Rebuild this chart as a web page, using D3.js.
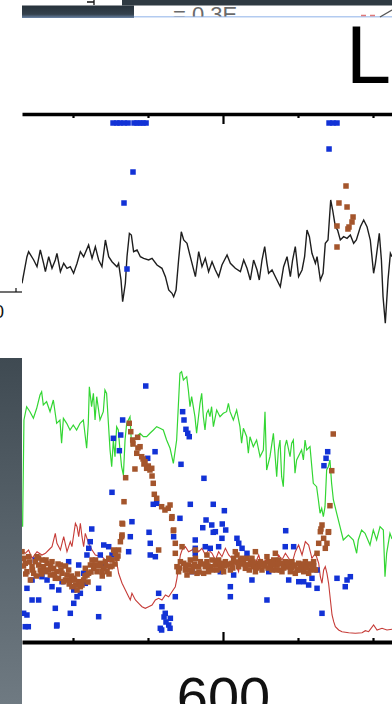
<!DOCTYPE html>
<html><head><meta charset="utf-8">
<script src="https://cdn.jsdelivr.net/npm/d3@7/dist/d3.min.js"></script>
<style>html,body{margin:0;padding:0;background:#fff;overflow:hidden}svg{display:block}</style>
</head><body>
<svg id="c" width="392" height="704"></svg>
<script>
// ---------- data ----------
const xTicks = [500, 550, 600, 650, 700];
const xLabels = {600: "600"};
const headerText = "= 0.3E";
const panelLetter = "L";
const leftAxisLabel = "0";

// top panel: black trace (frame, value)
const blackTrace = [[466,8.7],[469.3,35.3],[470.4,40.3],[473.8,32],[476,25.3],[478.2,42],[480.4,28.7],[481.6,20.3],[483.8,35.3],[486,23.7],[488.2,32],[489.3,38.7],[491.6,20.3],[493.8,28.7],[496,23.7],[498.2,25.3],[500.4,18.7],[502.7,28.7],[504.9,40.3],[507.1,35.3],[510.4,47],[512.7,33.7],[514.9,45.3],[517.1,32],[519.3,25.3],[521.6,52],[523.8,35.3],[526,30.3],[529.3,25.3],[530.4,28.7],[532,12],[533.1,-9.7],[534.9,8.7],[536,35.3],[537.6,58.7],[538.9,57],[540.4,40.3],[542.7,42],[544.9,35.3],[547.1,33.7],[550.4,32],[552.7,33.7],[556,27],[559.3,23.7],[561.6,15.3],[563.8,2],[566,-1.3],[567.1,-4.7],[568.7,2],[570.4,32],[572.2,60.3],[573.8,52],[576,48.7],[578.2,35.3],[581.6,15.3],[583.8,40.3],[586,25.3],[588.2,33.7],[590.4,20.3],[592.7,30.3],[594.9,22],[597.1,15.3],[599.3,27],[602.7,37],[604.9,28.7],[608.2,23.7],[611.6,20.3],[613.8,32],[616,23.7],[618.2,12],[620.4,32],[622.7,22],[624.2,12],[626,32],[627.8,45.3],[629.3,28.7],[630.4,18.7],[632.7,22],[634.9,15.3],[638.2,5.3],[640.4,25.3],[642.7,35.3],[644.9,15.3],[646.4,32],[648.2,45.3],[650.4,15.3],[652.7,22],[654.4,35.3],[656,62],[657.6,55.3],[659.3,38.7],[661.6,28.7],[662.7,35.3],[664.9,12],[666.7,18.7],[668.2,48.7],[670,52],[671.8,92],[673.1,82],[674.9,65.3],[676.4,62],[678.2,52],[680.4,55.3],[682.7,53.7],[684.9,57],[687.1,48.7],[688.9,52],[691.6,65.3],[693.8,72],[696,65.3],[698.2,52],[700.4,18.7],[701.6,28.7],[704.2,58.7],[705.6,32],[706.7,-4.7],[708.2,-31.3],[710,12],[711.6,38.7],[712.7,35.3]];

const blueTop = [[526.7,169],[529.3,169],[531.3,169],[534,169],[536.7,169],[540.7,169],[542.7,169],[544.7,169],[546.7,169],[548.7,169],[670.7,169],[673.3,169],[676,169],[670.7,143],[540,120],[534,89],[536,23]];
const brownTop = [[682,106],[677.3,89],[682.7,85],[686.7,75],[686,70],[676,66],[684,65],[683.3,63],[676,45]];

// bottom panel: green and red traces
const greenTrace = [[466.4,117.3],[467.3,224],[469.1,237.3],[471.3,232.3],[473.6,225.7],[475.8,235.7],[478,249],[479.1,252.3],[480.2,239],[482.4,242.3],[484.7,232.3],[486.9,244],[489.1,220.7],[491.3,224],[492.4,200.7],[493.6,225.7],[495.8,220.7],[498,214],[500.2,219],[502.4,214],[504.7,220.7],[506.9,224],[509.1,195.7],[510.2,220.7],[510.9,257.3],[512.4,237.3],[513.6,250.7],[514.7,224],[515.8,247.3],[518,224],[520.2,232.3],[521.3,254],[522.4,250.7],[523.6,220.7],[524.7,194],[525.8,177.3],[526.9,204],[528,187.3],[529.1,217.3],[530.2,214],[531.3,194],[532.4,177.3],[533.6,169],[534.7,204],[535.8,220.7],[536.9,224],[538,227.3],[539.1,197.3],[540.2,204],[542.4,207.3],[544.7,210.7],[546.9,207.3],[549.1,207.3],[551.3,210.7],[553.6,214],[555.8,217.3],[558,215.7],[560.2,214],[562.4,204],[564.7,195.7],[566.9,180.7],[569.1,204],[571.3,270.7],[572.4,272.3],[573.6,264],[575.8,267.3],[576.9,254],[578,237.3],[579.1,247.3],[581.3,227.3],[582.4,210.7],[584.7,240.7],[585.8,250.7],[586.9,227.3],[588,214],[589.1,230.7],[590.2,234],[591.3,227.3],[592.4,237.3],[593.6,217.3],[595.8,234],[598,227.3],[600.2,230.7],[602.4,232.3],[603.6,240.7],[604.7,232.3],[606.9,224],[609.1,234],[611.3,217.3],[612.4,200.7],[613.6,215.7],[615.8,207.3],[616.9,190.7],[618,207.3],[620.2,197.3],[622.4,204],[624.7,187.3],[626.9,194],[628,232.3],[629.1,174],[631.3,187.3],[633.6,210.7],[635.8,167.3],[636.9,194],[638,204],[639.1,167.3],[640.2,157.3],[641.3,197.3],[642.4,204],[644.7,187.3],[645.8,200.7],[646.9,204],[648,170.7],[649.1,184],[651.3,190.7],[652.4,194],[653.6,184],[654.7,204],[655.8,194],[658,197.3],[660.2,160.7],[662.4,157.3],[663.6,144],[664.7,130.7],[665.8,135.7],[666.9,127.3],[668,137.3],[669.1,174],[670.2,177.3],[671.3,184],[672.4,160.7],[673.6,144],[675.8,130.7],[678,117.3],[680.2,104],[683.6,109],[686.9,104],[689.1,90.7],[690.2,104],[692.4,114],[694.7,110.7],[698,99],[700.2,114],[702.4,104],[704.7,117.3],[706.9,114],[708,67.3],[709.1,90.7],[711.3,110.7],[712.7,105]];

const redTrace = [[466,94],[468.2,90.7],[470.4,94],[472.7,85.7],[476,92.3],[479.3,89],[481.6,90.7],[483.8,94],[486,97.3],[488.2,110.7],[489.3,100.7],[491.6,94],[493.8,107.3],[496,92.3],[498.2,102.3],[499.3,97.3],[501.6,120.7],[502.7,117.3],[503.8,107.3],[504.9,120.7],[506,107.3],[507.1,97.3],[508.2,110.7],[510.4,100.7],[512.7,94],[514.9,89],[519.3,87.3],[521.6,84],[523.8,82.3],[526,84],[528.2,85.7],[529.3,80.7],[530.4,70.7],[532.7,60.7],[534.9,54],[537.1,47.3],[538.2,44],[539.3,50.7],[541.6,44],[543.8,40.7],[546,37.3],[548.2,35.7],[550.4,37.3],[552.7,39],[554.9,44],[557.1,45.7],[559.3,44],[561.6,49],[563.8,47.3],[566,52.3],[568.2,57.3],[569.3,65.7],[570.4,77.3],[571.6,89],[572.7,94],[574.9,97.3],[577.1,92.3],[579.3,94],[581.6,97.3],[583.8,92.3],[586,95.7],[588.2,89],[590.4,94],[592.7,90.7],[594.9,84],[597.1,92.3],[599.3,87.3],[601.6,95.7],[603.8,89],[606,85.7],[608.2,80.7],[610.4,72.3],[611.6,85.7],[613.8,79],[614.9,89],[617.1,84],[619.3,87.3],[621.6,80.7],[623.8,89],[626,77.3],[628.2,84],[630.4,79],[632.7,85.7],[634.9,77.3],[637.1,89],[639.3,84],[641.6,90.7],[643.8,85.7],[646,80.7],[648.2,92.3],[650.4,99],[652.7,89],[654.9,102.3],[657.1,99],[659.3,85.7],[661.6,90.7],[663.8,80.7],[664.9,67.3],[666,60.7],[667.1,74],[668.2,77.3],[669.3,70.7],[670.4,60.7],[671.6,44],[672.7,29],[673.8,22.3],[674.9,17.3],[677.1,14],[679.3,12.3],[683.8,11.3],[688.2,10.7],[692.7,11.3],[694.9,13.3],[697.1,12.3],[700.4,19],[702.7,14],[706,15.7],[709.3,14],[712.7,14.7]];

const brownBottom = [[466,92.3],[468.2,80.7],[469.3,72.3],[471.6,64],[472.7,77.3],[474.9,82.3],[477.1,79],[478.2,74],[480.4,77.3],[482.7,80.7],[483.8,74],[484.9,69],[487.1,75.7],[489.3,72.3],[490.4,65.7],[492.7,70.7],[494.9,64],[496,69],[498.2,64],[499.3,57.3],[501.6,59],[503.8,62.3],[504.9,57.3],[507.1,64],[509.3,69],[511.6,79],[513.8,75.7],[516,72.3],[518.2,80.7],[520.4,75.7],[522.7,72.3],[524.9,77.3],[526,84],[528.2,90.7],[530.4,94],[531.6,102.3],[532.7,120.7],[532.7,109],
[467.1,85.7],[470.4,87.3],[473.8,70.7],[476,87.3],[479.3,84],[481.6,72.3],[486,82.3],[488.2,65.7],[491.6,79],[493.8,62.3],[497.1,74],[500.4,65.7],[502.7,54],[506,59],[508.2,75.7],[510.4,70.7],[512.7,84],[514.9,79],[519.3,72.3],[521.6,82.3],[523.8,85.7],[527.1,94],[529.3,85.7],
[467,78],[468.5,70],[471,82],[473,74],[475.5,68],[477,86],[479,70],[482,84],[485,78],[487.5,70],[490,80],[492,74],[495,78],[497.5,60],[499,68],[501,64],[503,70],[505.5,62],[508,68],[510,62],[512,72],[515,84],[517,78],[519.5,68],[522,78],[524,70],[526,78],[528,80],[530,88],
[567.1,114],[566,127.3],[568.2,100.7],[568.2,90.7],[569.3,77.3],[571.6,82.3],[574.9,74],[577.1,79],[579.3,72.3],[581.6,85.7],[583.8,77.3],[587.1,70.7],[589.3,82.3],[591.6,77.3],[594.9,79],[597.1,84],[599.3,77.3],[601.6,82.3],[604.9,74],[607.1,85.7],[609.3,89],[611.6,84],[613.8,80.7],[616,85.7],[618.2,82.3],[620.4,77.3],[622.7,80.7],[624.9,82.3],[626,74],[629.3,87.3],[631.6,77.3],[633.8,84],[636,79],[638.2,74],[640.4,80.7],[642.7,77.3],[644.9,72.3],[647.1,79],[649.3,74],[651.6,77.3],[653.8,72.3],[656,79],[658.2,74],[660.4,82.3],[662.7,90.7],[663.8,100.7],[664.9,112.3],[667.1,105.7],[669.3,100.7],[668.2,95.7],[670.4,112.3],[666,119],
[572.7,97.3],[581.6,94],[589.3,89],[608.2,92.3],[621.6,92.3],[634.9,90.7],[557.1,94],
[570.4,72.3],[573.8,80.7],[576,69],[578.2,84],[580.4,77.3],[582.7,70.7],[584.9,82.3],[588.2,77.3],[590.4,72.3],[592.7,84],[596,74],[598.2,80.7],[600.4,72.3],[602.7,79],[606,80.7],[610.4,77.3],[612.7,85.7],[614.9,75.7],[617.1,79],[619.3,85.7],[621.6,72.3],[623.8,77.3],[627.1,80.7],[630.4,82.3],[632.7,74],[634.9,79],[637.1,84],[639.3,72.3],[641.6,82.3],[643.8,77.3],[646,82.3],[648.2,70.7],[650.4,80.7],[652.7,75.7],[654.9,82.3],[657.1,70.7],[659.3,77.3],[661.6,74],
[571,76],[575,78],[578,74],[581,80],[584,72],[587,80],[590,78],[593,74],[595.5,83],[598.5,76],[601,78],[604,80],[606.5,76],[609,82],[612,80],[615,79],[617.5,74],[620,82],[622.5,76],[625,79],[628,78],[630,76],[633,80],[635.5,74],[638,80],[640.5,76],[643,82],[645.5,76],[648,78],[650.5,74],[653,80],[655.5,76],[658,80],[660.5,78],
[537.5,220.7],[538.5,212.3],[539.8,204],[543.1,206.7],[544.7,197.3],[542.5,190.7],[545.8,187.3],[548,182.3],[550.2,178],[552.5,175.7],[549.1,175.7],[541.3,175],[535.1,166.3],[553.5,160.7],[554.2,149.7],[555.8,145.7],[559.1,137.3],[561.3,134],[564.7,139],[563.5,135.7],[565.8,125.7],[566.9,113.3],[534,142.3],[533.1,120],[532.5,107.3],[673.5,210],[672.5,173.3],[671.3,138.3],[665.3,115],[670.2,111.7],[546.7,185],[551.3,174],[552.7,168],[540,200],[543.3,196],[547.3,180]];

const blueBottom = [[548.5,258],[573.1,232.3],[574,224],[575.3,214.7],[576.5,210.7],[577.5,207.3],[533.1,224],[526.9,205.7],[531.8,209],[530.9,193.3],[554.7,192.3],[549.8,185.7],[572,179.7],[587.3,165.7],[526,151.7],[553.5,139.7],[555.8,140.7],[578.2,139.7],[593.5,139.7],[600.9,133.3],[571.3,125.7],[539.3,122.3],[588.7,124],[592.5,119],[599.5,120],[586.5,116.3],[593.5,111.7],[601.8,114],[550.7,111.7],[512.5,115],[669.8,192.3],[668.7,185.7],[667.3,178.3],[641.8,113.3],[594.9,112.3],[511.5,102.3],[538.2,107.3],[567.1,107.3],[581.5,104],[599.3,105.7],[609.3,105.7],[551.5,100.7],[520.5,99],[523.8,97.3],[510.5,95.7],[537.1,92.3],[588.2,97.3],[591.5,95.7],[597.1,97.3],[610.5,100.7],[612.7,95.7],[616,90.7],[641.5,97.3],[647.1,97.3],[551.5,89],[554.9,87.3],[581.5,90.7],[509.3,89],[518.2,89],[526,89],[581.5,95.7],[474.9,84],[497.1,82.3],[503.8,79],[520.5,77.3],[479.3,67.3],[482.7,64],[486,57.3],[492.7,62.3],[507.1,70.7],[508.2,60.7],[472.7,64],[579.3,72.3],[598.2,72.3],[607.1,69],[619.3,64],[630.5,72.3],[643.8,64],[650.5,62.3],[653.8,62.3],[657.1,59],[659.3,65.7],[662.7,74],[662.7,55.7],[676,65.7],[682.7,64],[684.9,67.3],[681.5,57.3],[490.5,54],[469.3,55.7],[472.7,44],[467.1,30.7],[469.3,29],[468.2,17.3],[488.2,35.7],[489.3,19],[498.2,30.7],[500.5,40.7],[502.7,47.3],[504.9,50.7],[517.1,55.7],[517.1,27.3],[557.1,50.7],[559.3,37.3],[561.5,30.7],[564.9,25.7],[563.8,19],[558.2,15.7],[568.2,47.3],[604.9,57.3],[604.9,47.3],[629.3,44],[666,30.7],[500.5,54],[477.1,44],[470.2,17.3],[489.1,18],[559.1,14],[564.7,15.7],[562,22],[560.7,27]];

// ---------- drawing ----------
const svg = d3.select("#c");
const x = d3.scaleLinear().domain([466, 712.667]).range([22, 392]);
const yTop = d3.scaleLinear().domain([0, 178]).range([292, 114]);
const yBot = d3.scaleLinear().domain([0, 300]).range([644, 344]);

const defs = svg.append("defs");
const g1 = defs.append("linearGradient").attr("id","sideGrad").attr("x1",0).attr("y1",0).attr("x2",0).attr("y2",1);
g1.append("stop").attr("offset","0%").attr("stop-color","#3f4a52");
g1.append("stop").attr("offset","100%").attr("stop-color","#6f7a82");
const g2 = defs.append("linearGradient").attr("id","barGrad").attr("x1",0).attr("y1",0).attr("x2",0).attr("y2",1);
g2.append("stop").attr("offset","0%").attr("stop-color","#27323b");
g2.append("stop").attr("offset","70%").attr("stop-color","#34414c");
g2.append("stop").attr("offset","100%").attr("stop-color","#6a84a6");
defs.append("clipPath").attr("id","hdrClip").append("rect").attr("x",130).attr("y",0).attr("width",262).attr("height",16.5);
defs.append("clipPath").attr("id","plotClip").append("rect").attr("x",22).attr("y",0).attr("width",370).attr("height",704);

// header decorations
svg.append("rect").attr("x",122).attr("y",0).attr("width",270).attr("height",5.5).attr("fill","#2f3a42");
svg.append("rect").attr("x",22).attr("y",5.5).attr("width",112).attr("height",12.5).attr("fill","url(#barGrad)");
svg.append("line").attr("x1",134).attr("x2",392).attr("y1",16.8).attr("y2",16.8).attr("stroke","#b3cbf0").attr("stroke-width",1.6);
svg.append("path").attr("d","M87,2H94M94,0V5").attr("stroke","#111").attr("stroke-width",1.3).attr("fill","none");
svg.append("text").attr("x",173).attr("y",22).attr("clip-path","url(#hdrClip)")
  .attr("font-family","Liberation Sans, Arial, sans-serif").attr("font-size",22).attr("fill","#6a6a6a").text(headerText);
svg.append("path").attr("d","M361,15.5H366M370,15.5H375").attr("stroke","#e07a7a").attr("stroke-width",1.4);
svg.append("path").attr("d","M380,17L392,10").attr("stroke","#555").attr("stroke-width",1.4);

// panel letter
svg.append("text").attr("x",346).attr("y",83).attr("font-family","Liberation Sans, Arial, sans-serif")
  .attr("font-size",81).attr("fill","#000").text(panelLetter);

// left side pieces
svg.append("rect").attr("x",0).attr("y",358).attr("width",22).attr("height",346).attr("fill","url(#sideGrad)");
svg.append("line").attr("x1",0).attr("x2",22).attr("y1",yTop(0)).attr("y2",yTop(0)).attr("stroke","#111").attr("stroke-width",1.2);
svg.append("line").attr("x1",16).attr("x2",16).attr("y1",yTop(0)-4).attr("y2",yTop(0)).attr("stroke","#111").attr("stroke-width",1.2);
svg.append("text").attr("x",4).attr("y",318).attr("text-anchor","end").attr("font-family","Liberation Sans, Arial, sans-serif")
  .attr("font-size",18).attr("fill","#111").text(leftAxisLabel);

// top panel
const topG = svg.append("g").attr("clip-path","url(#plotClip)");
const line = (ys) => d3.line().x(d => x(d[0])).y(d => ys(d[1]));
topG.append("path").datum(blackTrace).attr("d", line(yTop)).attr("fill","none").attr("stroke","#1e1e1e").attr("stroke-width",1.4);
const sq = 5.5;
topG.selectAll(".bt").data(blueTop).join("rect").attr("x",d=>x(d[0])-sq/2).attr("y",d=>yTop(d[1])-sq/2)
  .attr("width",sq).attr("height",sq).attr("fill","#1232d6");
topG.selectAll(".brt").data(brownTop).join("rect").attr("x",d=>x(d[0])-sq/2).attr("y",d=>yTop(d[1])-sq/2)
  .attr("width",sq).attr("height",sq).attr("fill","#a4552c");

const topAxis = svg.append("g").attr("transform","translate(0,114)")
  .call(d3.axisBottom(x).tickValues(xTicks).tickSizeInner(4).tickSizeOuter(0).tickFormat(""));
topAxis.select(".domain").attr("stroke","#000").attr("stroke-width",3.5);
topAxis.selectAll(".tick line").attr("stroke","#000").attr("stroke-width",2.2)
  .attr("y2", d => d === 600 ? 10 : 4);

// bottom panel
const botG = svg.append("g").attr("clip-path","url(#plotClip)");
botG.append("path").datum(greenTrace).attr("d", line(yBot)).attr("fill","none").attr("stroke","#33d633").attr("stroke-width",1.2);
botG.append("path").datum(redTrace).attr("d", line(yBot)).attr("fill","none").attr("stroke","#c63c38").attr("stroke-width",1.1);
botG.selectAll(".bb").data(blueBottom).join("rect").attr("x",d=>x(d[0])-sq/2).attr("y",d=>yBot(d[1])-sq/2)
  .attr("width",sq).attr("height",sq).attr("fill","#1232d6");
botG.selectAll(".brb").data(brownBottom).join("rect").attr("x",d=>x(d[0])-sq/2).attr("y",d=>yBot(d[1])-sq/2)
  .attr("width",sq).attr("height",sq).attr("fill","#a4552c");

const botAxis = svg.append("g").attr("transform","translate(0,642)")
  .call(d3.axisBottom(x).tickValues(xTicks).tickSizeInner(-4).tickSizeOuter(0).tickPadding(34)
    .tickFormat(d => xLabels[d] || ""));
botAxis.select(".domain").attr("stroke","#000").attr("stroke-width",4);
botAxis.selectAll(".tick line").attr("stroke","#000").attr("stroke-width",2.2)
  .attr("y2", d => d === 600 ? -10 : -4);
botAxis.selectAll(".tick text").attr("font-family","Liberation Sans, Arial, sans-serif")
  .attr("font-size",56).attr("fill","#111");
</script>
</body></html>
